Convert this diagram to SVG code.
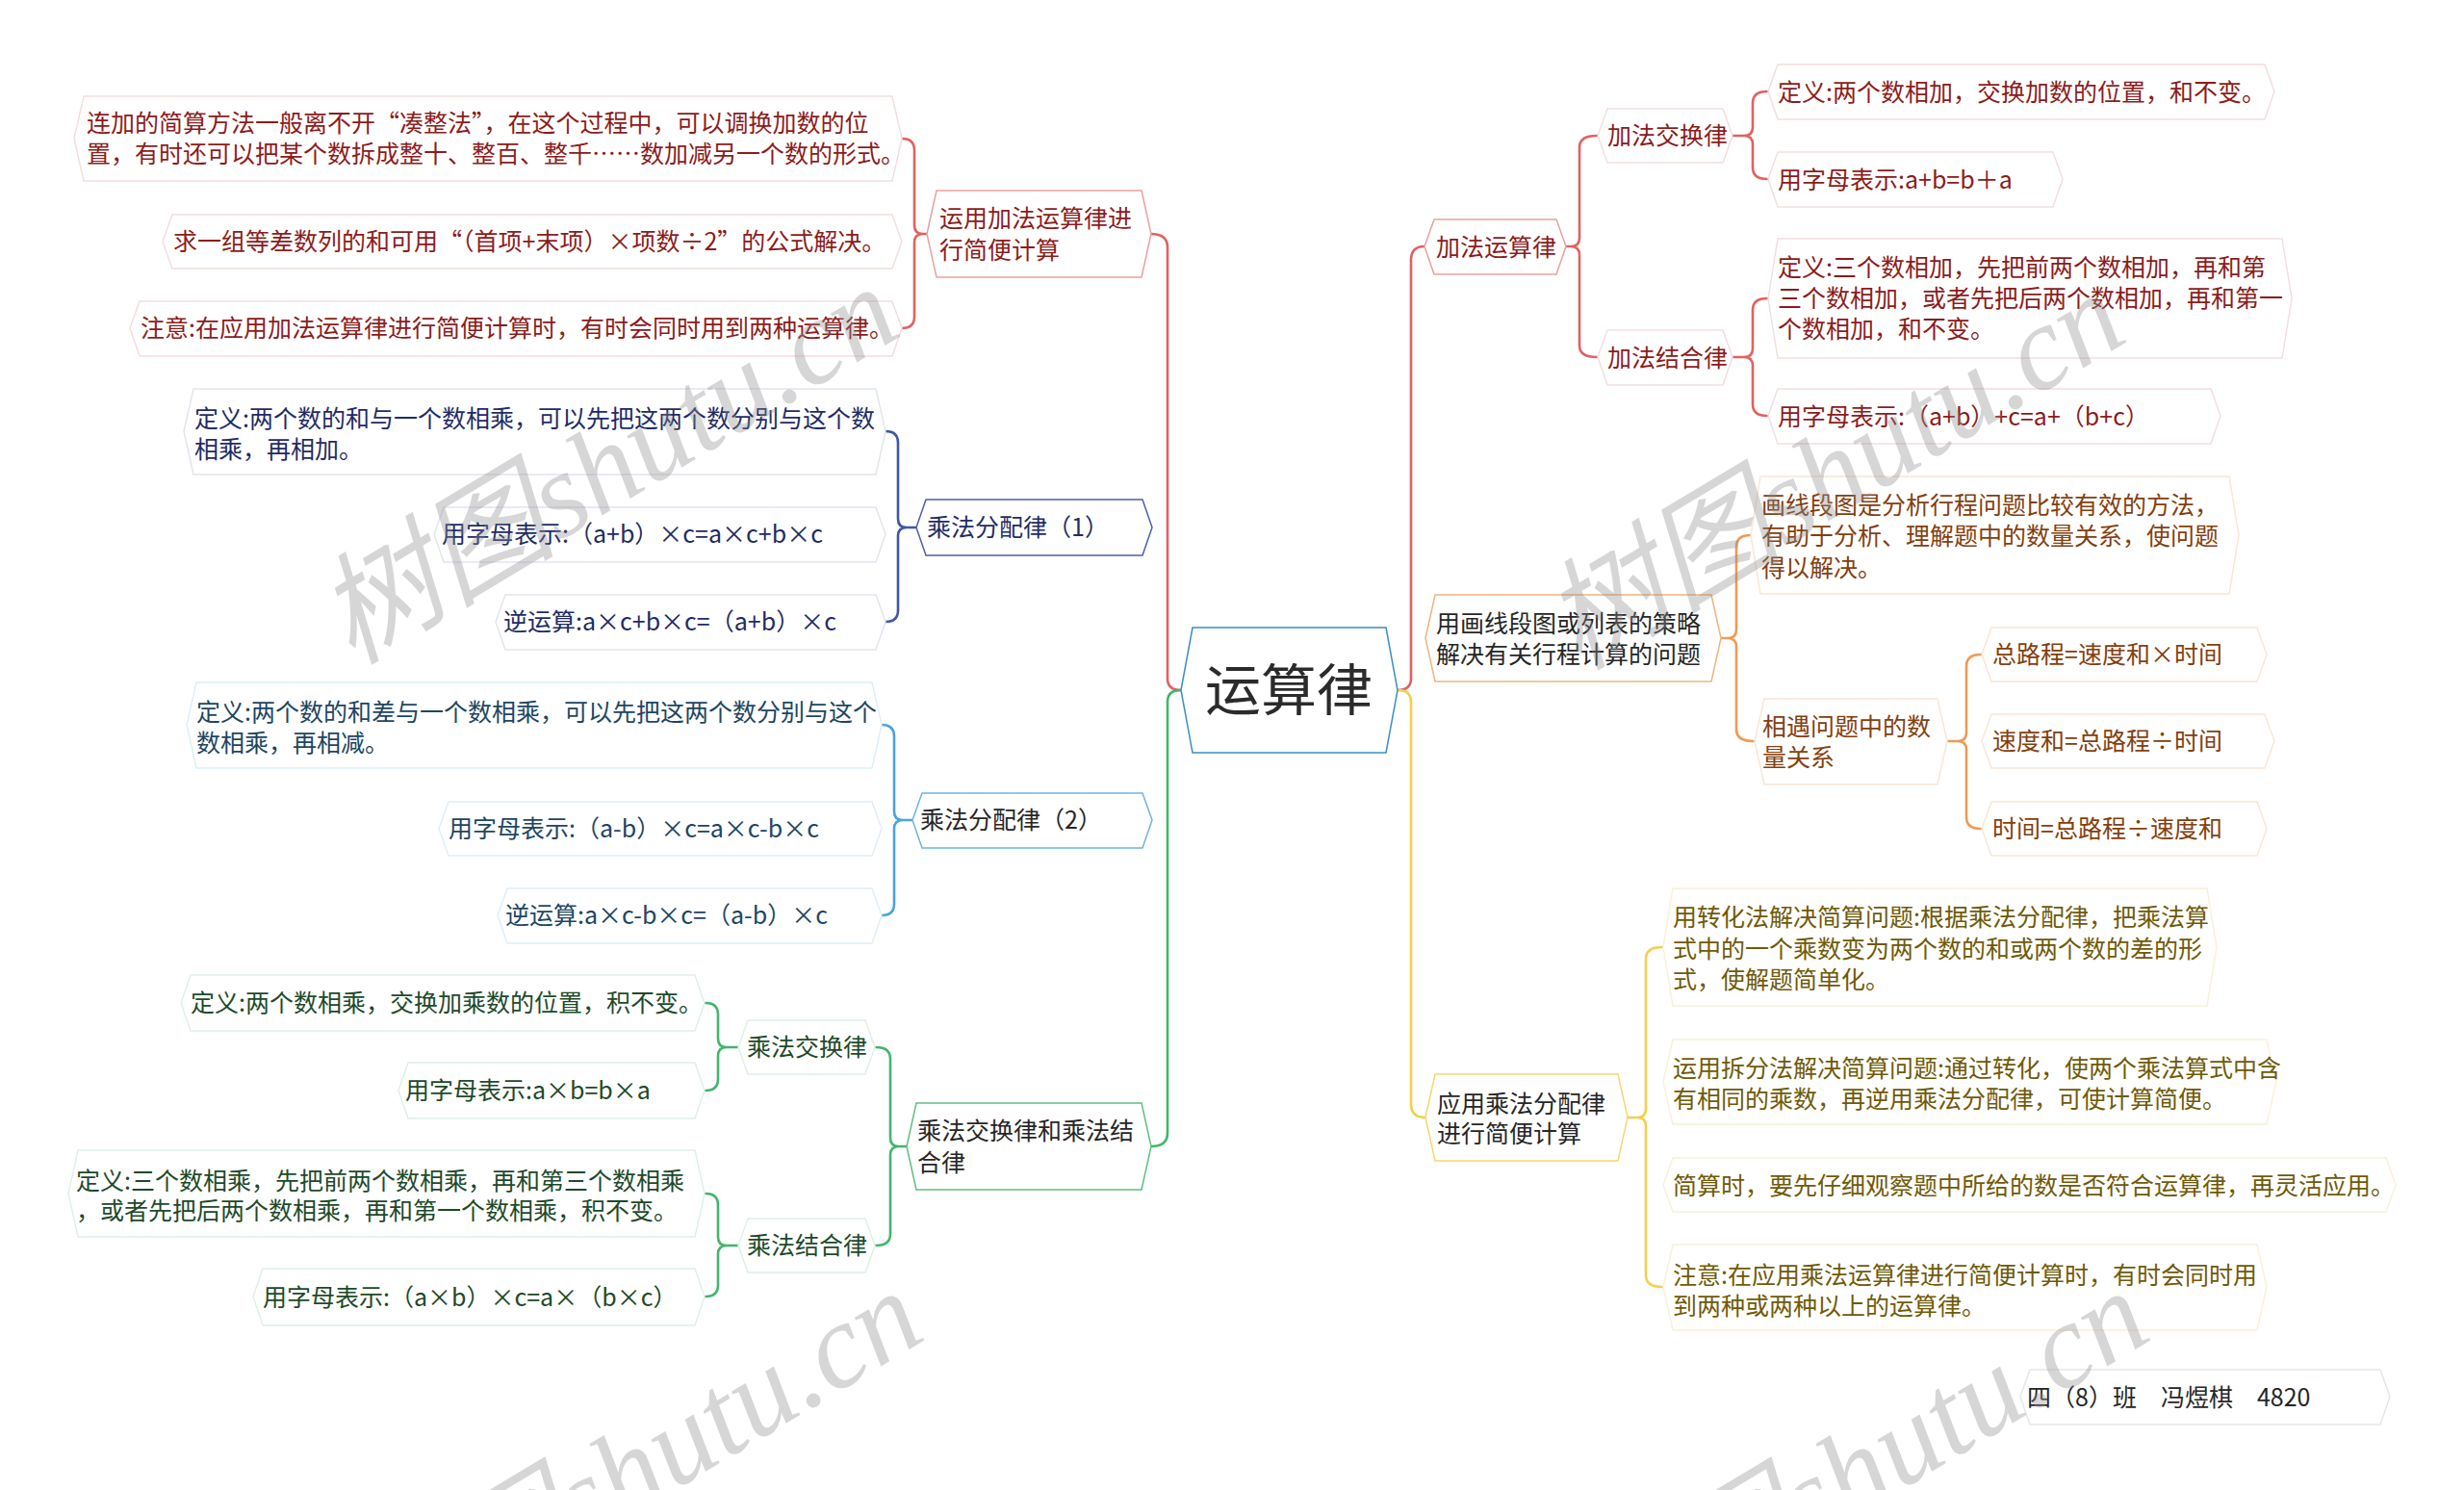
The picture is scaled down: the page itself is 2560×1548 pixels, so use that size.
<svg xmlns="http://www.w3.org/2000/svg" width="2560" height="1548" viewBox="0 0 2560 1548">
<defs>
<style>
.bg{fill:#ffffff}
.hx{fill:#ffffff;stroke-width:1.5}
.t{font-family:"Noto Sans CJK SC","Microsoft YaHei",sans-serif;font-size:25px}
.root{font-family:"Noto Sans CJK SC",sans-serif;font-size:58px;fill:#2b2b2b}
.c{fill:none;stroke-width:2.6;stroke-linecap:round;stroke-linejoin:round}
.cr{stroke:#e06262}.cb{stroke:#3f57a6}.cl{stroke:#4aa3dc}.cg{stroke:#45b46c}.co{stroke:#ef9a55}.cy{stroke:#f3cf4c}
.sr{stroke:#e7a1a1}.sb{stroke:#4a5fae}.sl{stroke:#6db4e2}.sg{stroke:#5fbf80}.so{stroke:#f2b27c}.sy{stroke:#f3d771}.sroot{stroke:#3a8fc2}
.fr{stroke:#f3dede}.fb{stroke:#e1e5f1}.fl{stroke:#dfeef8}.fg{stroke:#dff1e5}.fo{stroke:#f8e6d6}.fy{stroke:#f8f1d8}.fgr{stroke:#e6e6e6}
.tr{fill:#8b1c1c}.tb{fill:#1f2c66}.tl{fill:#1d4662}.tg{fill:#1d4a2a}.to{fill:#83400f}.ty{fill:#6f5a08}.tk{fill:#262626}
.wm{font-family:"Liberation Serif","Noto Sans CJK SC",serif;font-style:italic;font-size:125px;fill:#8c8c8c;opacity:0.35}
</style>
</defs>
<rect class="bg" x="0" y="0" width="2560" height="1548"/>

<g id="connectors">
<path class="c cr" d="M1196,243 Q1213,243 1213,257 L1213,705 Q1213,717 1227,717"/>
<path class="c cg" d="M1227,717 Q1213,717 1213,729 L1213,1177 Q1213,1191 1196,1191"/>
<path class="c cr" d="M1480,256 Q1466,256 1466,270 L1466,705 Q1466,717 1452,717"/>
<path class="c cy" d="M1452,717 Q1466,717 1466,729 L1466,1147 Q1466,1161 1481,1161"/>
<path class="c cr" d="M937,144 Q950,144 950,156 L950,234 Q950,243 959,243 L963,243 M959,243 Q950,243 950,252 L950,329 Q950,341 937,341"/>
<path class="c cb" d="M920,448 Q933,448 933,460 L933,539 Q933,548 942,548 L952,548 M942,548 Q933,548 933,557 L933,634 Q933,646 920,646"/>
<path class="c cl" d="M916,753 Q929,753 929,765 L929,843 Q929,852 938,852 L948,852 M938,852 Q929,852 929,861 L929,939 Q929,951 916,951"/>
<path class="c cg" d="M910,1088 Q925,1088 925,1100 L925,1182 Q925,1191 934,1191 L942,1191 M934,1191 Q925,1191 925,1200 L925,1282 Q925,1294 910,1294"/>
<path class="c cg" d="M733,1042 Q746,1042 746,1054 L746,1079 Q746,1088 755,1088 L767,1088 M755,1088 Q746,1088 746,1097 L746,1121 Q746,1133 733,1133"/>
<path class="c cg" d="M733,1240 Q746,1240 746,1252 L746,1285 Q746,1294 755,1294 L767,1294 M755,1294 Q746,1294 746,1303 L746,1335 Q746,1347 733,1347"/>
<path class="c cr" d="M1659,141 Q1641,141 1641,153 L1641,247 Q1641,256 1632,256 L1627,256 M1632,256 Q1641,256 1641,265 L1641,359 Q1641,371 1659,371"/>
<path class="c cr" d="M1836,95 Q1821,95 1821,107 L1821,132 Q1821,141 1812,141 L1800,141 M1812,141 Q1821,141 1821,150 L1821,174 Q1821,186 1836,186"/>
<path class="c cr" d="M1836,310 Q1821,310 1821,322 L1821,362 Q1821,371 1812,371 L1800,371 M1812,371 Q1821,371 1821,380 L1821,420 Q1821,432 1836,432"/>
<path class="c co" d="M1819,556 Q1804,556 1804,568 L1804,654 Q1804,663 1795,663 L1788,663 M1795,663 Q1804,663 1804,672 L1804,758 Q1804,770 1822,770"/>
<path class="c co" d="M2058,680 Q2043,680 2043,692 L2043,761 Q2043,770 2034,770 L2023,770 M2034,770 Q2043,770 2043,779 L2043,849 Q2043,861 2058,861"/>
<path class="c cy" d="M1727,984 Q1710,984 1710,996 L1710,1152 Q1710,1161 1701,1161 L1691,1161 M1701,1161 Q1710,1161 1710,1170 L1710,1325 Q1710,1337 1727,1337"/>
</g>

<g id="node-root">
<polygon class="hx sroot" points="1227,717 1239,652 1440,652 1452,717 1440,782 1239,782"/>
<text class="root" x="1339" y="738" text-anchor="middle">运算律</text>
</g>

<g id="node-L1">
<polygon class="hx sr" points="963,243 973,198 1186,198 1196,243 1186,288 973,288"/>
<text class="t tr"><tspan x="976" y="236">运用加法运算律进</tspan><tspan x="976" y="269">行简便计算</tspan></text>
</g>
<g id="node-L1a">
<polygon class="hx fr" points="77,144 87,100 927,100 937,144 927,188 87,188"/>
<text class="t tr"><tspan x="90" y="137">连加的简算方法一般离不开“凑整法”，在这个过程中，可以调换加数的位</tspan><tspan x="90" y="169">置，有时还可以把某个数拆成整十、整百、整千……数加减另一个数的形式。</tspan></text>
</g>
<g id="node-L1b">
<polygon class="hx fr" points="169,251 179,223 927,223 937,251 927,279 179,279"/>
<text class="t tr" x="180" y="260">求一组等差数列的和可用“（首项+末项）×项数÷2”的公式解决。</text>
</g>
<g id="node-L1c">
<polygon class="hx fr" points="135,341 145,313 927,313 937,341 927,370 145,370"/>
<text class="t tr" x="146" y="350">注意:在应用加法运算律进行简便计算时，有时会同时用到两种运算律。</text>
</g>

<g id="node-L2">
<polygon class="hx sb" points="952,548 962,519 1187,519 1197,548 1187,577 962,577"/>
<text class="t tb" x="963" y="557">乘法分配律（1）</text>
</g>
<g id="node-L2a">
<polygon class="hx fb" points="191,448 201,404 910,404 920,448 910,493 201,493"/>
<text class="t tb"><tspan x="202" y="444">定义:两个数的和与一个数相乘，可以先把这两个数分别与这个数</tspan><tspan x="202" y="476">相乘，再相加。</tspan></text>
</g>
<g id="node-L2b">
<polygon class="hx fb" points="451,555 461,527 910,527 920,555 910,584 461,584"/>
<text class="t tb" x="459" y="564">用字母表示:（a+b）×c=a×c+b×c</text>
</g>
<g id="node-L2c">
<polygon class="hx fb" points="515,646 525,618 910,618 920,646 910,675 525,675"/>
<text class="t tb" x="523" y="655">逆运算:a×c+b×c=（a+b）×c</text>
</g>

<g id="node-L3">
<polygon class="hx sl" points="948,852 958,824 1187,824 1197,852 1187,881 958,881"/>
<text class="t tk" x="956" y="861">乘法分配律（2）</text>
</g>
<g id="node-L3a">
<polygon class="hx fl" points="194,753 204,709 906,709 916,753 906,798 204,798"/>
<text class="t tl"><tspan x="204" y="749">定义:两个数的和差与一个数相乘，可以先把这两个数分别与这个</tspan><tspan x="204" y="781">数相乘，再相减。</tspan></text>
</g>
<g id="node-L3b">
<polygon class="hx fl" points="456,861 466,833 906,833 916,861 906,889 466,889"/>
<text class="t tl" x="466" y="870">用字母表示:（a-b）×c=a×c-b×c</text>
</g>
<g id="node-L3c">
<polygon class="hx fl" points="517,951 527,923 906,923 916,951 906,980 527,980"/>
<text class="t tl" x="525" y="960">逆运算:a×c-b×c=（a-b）×c</text>
</g>

<g id="node-L4">
<polygon class="hx sg" points="942,1191 952,1146 1186,1146 1196,1191 1186,1236 952,1236"/>
<text class="t tk"><tspan x="953" y="1184">乘法交换律和乘法结</tspan><tspan x="953" y="1217">合律</tspan></text>
</g>
<g id="node-L4a">
<polygon class="hx fg" points="767,1088 777,1060 899,1060 909,1088 899,1116 777,1116"/>
<text class="t tg" x="776" y="1097">乘法交换律</text>
</g>
<g id="node-L4a1">
<polygon class="hx fg" points="188,1042 198,1013 722,1013 732,1042 722,1071 198,1071"/>
<text class="t tg" x="198" y="1051">定义:两个数相乘，交换加乘数的位置，积不变。</text>
</g>
<g id="node-L4a2">
<polygon class="hx fg" points="414,1133 424,1104 722,1104 732,1133 722,1162 424,1162"/>
<text class="t tg" x="421" y="1142">用字母表示:a×b=b×a</text>
</g>
<g id="node-L4b">
<polygon class="hx fg" points="767,1294 777,1266 899,1266 909,1294 899,1322 777,1322"/>
<text class="t tg" x="776" y="1303">乘法结合律</text>
</g>
<g id="node-L4b1">
<polygon class="hx fg" points="71,1240 81,1195 722,1195 732,1240 722,1285 81,1285"/>
<text class="t tg"><tspan x="79" y="1236">定义:三个数相乘，先把前两个数相乘，再和第三个数相乘</tspan><tspan x="79" y="1267">，或者先把后两个数相乘，再和第一个数相乘，积不变。</tspan></text>
</g>
<g id="node-L4b2">
<polygon class="hx fg" points="263,1347 273,1318 722,1318 732,1347 722,1377 273,1377"/>
<text class="t tg" x="273" y="1357">用字母表示:（a×b）×c=a×（b×c）</text>
</g>

<g id="node-R1">
<polygon class="hx sr" points="1480,256 1490,228 1617,228 1627,256 1617,285 1490,285"/>
<text class="t tr" x="1492" y="266">加法运算律</text>
</g>
<g id="node-R1a">
<polygon class="hx fr" points="1660,141 1670,113 1790,113 1800,141 1790,169 1670,169"/>
<text class="t tr" x="1670" y="150">加法交换律</text>
</g>
<g id="node-R1a1">
<polygon class="hx fr" points="1837,95 1847,67 2353,67 2363,95 2353,124 1847,124"/>
<text class="t tr" x="1847" y="105">定义:两个数相加，交换加数的位置，和不变。</text>
</g>
<g id="node-R1a2">
<polygon class="hx fr" points="1837,186 1847,158 2133,158 2143,186 2133,215 1847,215"/>
<text class="t tr" x="1847" y="196">用字母表示:a+b=b＋a</text>
</g>
<g id="node-R1b">
<polygon class="hx fr" points="1660,371 1670,343 1790,343 1800,371 1790,400 1670,400"/>
<text class="t tr" x="1670" y="381">加法结合律</text>
</g>
<g id="node-R1b1">
<polygon class="hx fr" points="1837,310 1847,248 2371,248 2381,310 2371,372 1847,372"/>
<text class="t tr"><tspan x="1847" y="287">定义:三个数相加，先把前两个数相加，再和第</tspan><tspan x="1847" y="319">三个数相加，或者先把后两个数相加，再和第一</tspan><tspan x="1847" y="351">个数相加，和不变。</tspan></text>
</g>
<g id="node-R1b2">
<polygon class="hx fr" points="1837,432 1847,404 2297,404 2307,432 2297,461 1847,461"/>
<text class="t tr" x="1847" y="442">用字母表示:（a+b）+c=a+（b+c）</text>
</g>

<g id="node-R2">
<polygon class="hx so" points="1481,663 1491,618 1778,618 1788,663 1778,708 1491,708"/>
<text class="t tk"><tspan x="1492" y="657">用画线段图或列表的策略</tspan><tspan x="1492" y="689">解决有关行程计算的问题</tspan></text>
</g>
<g id="node-R2a">
<polygon class="hx fo" points="1819,556 1829,495 2316,495 2326,556 2316,617 1829,617"/>
<text class="t to"><tspan x="1830" y="534">画线段图是分析行程问题比较有效的方法，</tspan><tspan x="1830" y="566">有助于分析、理解题中的数量关系，使问题</tspan><tspan x="1830" y="599">得以解决。</tspan></text>
</g>
<g id="node-R2b">
<polygon class="hx fo" points="1823,770 1833,726 2013,726 2023,770 2013,815 1833,815"/>
<text class="t to"><tspan x="1831" y="764">相遇问题中的数</tspan><tspan x="1831" y="796">量关系</tspan></text>
</g>
<g id="node-R2b1">
<polygon class="hx fo" points="2059,680 2069,652 2345,652 2355,680 2345,708 2069,708"/>
<text class="t to" x="2070" y="689">总路程=速度和×时间</text>
</g>
<g id="node-R2b2">
<polygon class="hx fo" points="2059,770 2069,742 2353,742 2363,770 2353,798 2069,798"/>
<text class="t to" x="2070" y="779">速度和=总路程÷时间</text>
</g>
<g id="node-R2b3">
<polygon class="hx fo" points="2059,861 2069,833 2345,833 2355,861 2345,889 2069,889"/>
<text class="t to" x="2070" y="870">时间=总路程÷速度和</text>
</g>

<g id="node-R3">
<polygon class="hx sy" points="1481,1161 1491,1116 1681,1116 1691,1161 1681,1206 1491,1206"/>
<text class="t tk"><tspan x="1493" y="1156">应用乘法分配律</tspan><tspan x="1493" y="1187">进行简便计算</tspan></text>
</g>
<g id="node-R3a">
<polygon class="hx fy" points="1728,984 1738,923 2293,923 2303,984 2293,1045 1738,1045"/>
<text class="t ty"><tspan x="1738" y="962">用转化法解决简算问题:根据乘法分配律，把乘法算</tspan><tspan x="1738" y="995">式中的一个乘数变为两个数的和或两个数的差的形</tspan><tspan x="1738" y="1027">式，使解题简单化。</tspan></text>
</g>
<g id="node-R3b">
<polygon class="hx fy" points="1728,1124 1738,1080 2355,1080 2365,1124 2355,1168 1738,1168"/>
<text class="t ty"><tspan x="1738" y="1119">运用拆分法解决简算问题:通过转化，使两个乘法算式中含</tspan><tspan x="1738" y="1151">有相同的乘数，再逆用乘法分配律，可使计算简便。</tspan></text>
</g>
<g id="node-R3c">
<polygon class="hx fy" points="1728,1231 1738,1203 2479,1203 2489,1231 2479,1259 1738,1259"/>
<text class="t ty" x="1738" y="1241">简算时，要先仔细观察题中所给的数是否符合运算律，再灵活应用。</text>
</g>
<g id="node-R3d">
<polygon class="hx fy" points="1728,1337 1738,1293 2345,1293 2355,1337 2345,1382 1738,1382"/>
<text class="t ty"><tspan x="1738" y="1334">注意:在应用乘法运算律进行简便计算时，有时会同时用</tspan><tspan x="1738" y="1366">到两种或两种以上的运算律。</tspan></text>
</g>

<g id="node-footer">
<polygon class="hx fgr" points="2099,1451 2109,1423 2473,1423 2483,1451 2473,1480 2109,1480"/>
<text class="t tk" x="2106" y="1461">四（8）班　冯煜棋　4820</text>
</g>

<g id="watermark">
<text class="wm" x="653" y="519" text-anchor="middle" transform="rotate(-31 653 519)">树图shutu.cn</text>
<text class="wm" x="1927" y="525" text-anchor="middle" transform="rotate(-31 1927 525)">树图shutu.cn</text>
<text class="wm" x="678" y="1562" text-anchor="middle" transform="rotate(-31 678 1562)">树图shutu.cn</text>
<text class="wm" x="1952" y="1562" text-anchor="middle" transform="rotate(-31 1952 1562)">树图shutu.cn</text>
</g>
</svg>
